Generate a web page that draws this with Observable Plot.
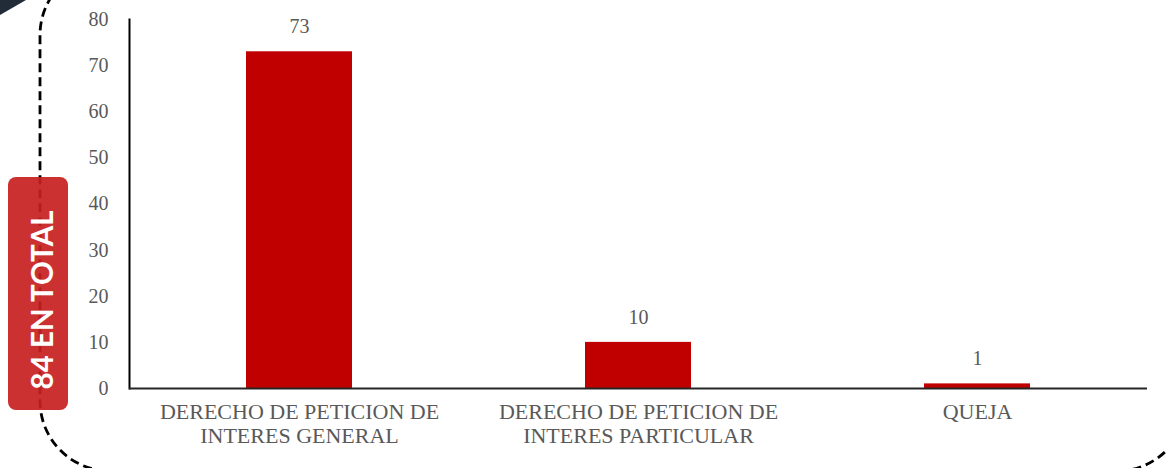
<!DOCTYPE html>
<html>
<head>
<meta charset="utf-8">
<script src="https://cdn.jsdelivr.net/npm/d3@7"></script>
<script src="https://cdn.jsdelivr.net/npm/@observablehq/plot@0.6"></script>
<style>
  html, body { margin: 0; padding: 0; background: #fff; }
  #wrap { position: relative; width: 1167px; height: 468px; overflow: hidden; }
  #wrap > svg { position: absolute; left: 0; top: 0; }
</style>
</head>
<body>
<div id="wrap"></div>
<script>
const categories = [
  "DERECHO DE PETICION DE\nINTERES GENERAL",
  "DERECHO DE PETICION DE\nINTERES PARTICULAR",
  "QUEJA"
];
const values = [73, 10, 1];
const yTicks = [0, 10, 20, 30, 40, 50, 60, 70, 80];
const totalLabel = "84 EN TOTAL";

const data = categories.map((c, i) => ({ category: c, value: values[i] }));

const serif = "'Liberation Serif', 'DejaVu Serif', serif";

const chart = Plot.plot({
  width: 1167,
  height: 468,
  marginLeft: 129,
  marginRight: 20,
  marginTop: 19,
  marginBottom: 80,
  style: { fontFamily: serif, background: "transparent", overflow: "visible" },
  x: { domain: categories, paddingInner: 0.6875, paddingOuter: 0.34375, align: 0.5 },
  y: { domain: [0, 80], ticks: yTicks },
  marks: [
    Plot.barY(data, { x: "category", y: "value", fill: "#C00000" }),
    Plot.text(data, {
      x: "category", y: "value", text: d => String(d.value),
      dy: -25, fontSize: 20, fill: "#595959", fontFamily: serif
    }),
    Plot.axisY({
      ticks: yTicks, tickSize: 0, tickPadding: 21, label: null,
      fontSize: 20, fill: "#595959", fontFamily: serif
    }),
    Plot.axisX({
      tickSize: 0, tickPadding: 13, label: null,
      fontSize: 22, fill: "#595959", fontFamily: serif, lineHeight: 1.1
    }),
    Plot.frame({ anchor: "left", stroke: "#000", strokeWidth: 2 }),
    Plot.ruleY([0], { stroke: "#262626", strokeWidth: 2 })
  ]
});

const wrap = document.getElementById("wrap");
wrap.appendChild(chart);

// decorative overlay: corner shape, dashed frame, total badge
const ns = "http://www.w3.org/2000/svg";
const ov = d3.select(wrap).append("svg")
  .attr("xmlns", ns)
  .attr("width", 1167).attr("height", 468)
  .style("pointer-events", "none");

ov.append("polygon")
  .attr("points", "0,0 26,0 0,15")
  .attr("fill", "#222B38");

ov.append("rect")
  .attr("x", 40).attr("y", -35)
  .attr("width", 1147).attr("height", 506)
  .attr("rx", 70).attr("ry", 70)
  .attr("fill", "none")
  .attr("stroke", "#000")
  .attr("stroke-width", 2.8)
  .attr("stroke-dasharray", "9 5");

ov.append("rect")
  .attr("x", 8).attr("y", 177)
  .attr("width", 60).attr("height", 233)
  .attr("rx", 8).attr("ry", 8)
  .attr("fill", "#C8201F")
  .attr("fill-opacity", 0.92);

ov.append("text")
  .attr("transform", "translate(53,300) rotate(-90)")
  .attr("text-anchor", "middle")
  .attr("fill", "#fff")
  .attr("font-family", "Lato, 'Open Sans', sans-serif")
  .attr("font-weight", 700)
  .attr("font-size", 29.5)
  .text(totalLabel);
</script>
</body>
</html>
